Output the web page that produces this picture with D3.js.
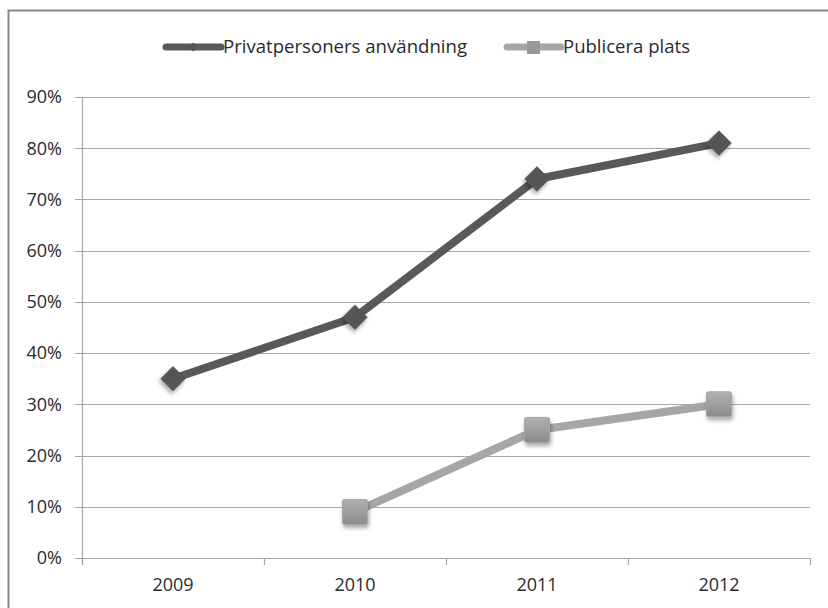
<!DOCTYPE html>
<html>
<head>
<meta charset="utf-8">
<script src="https://cdn.jsdelivr.net/npm/d3@7"></script>
<style>
body { margin: 0; background: #fff; }
text { font-family: "Open Sans", "Liberation Sans", sans-serif; fill: #2b2b2b; }
</style>
</head>
<body>
<svg id="chart"></svg>
<script>
var years = ["2009", "2010", "2011", "2012"];
var privat = [35, 47, 74, 81];
var publicera = [null, 9, 25, 30];
var yTicks = [0, 10, 20, 30, 40, 50, 60, 70, 80, 90];
var seriesNames = ["Privatpersoners användning", "Publicera plats"];

var width = 828, height = 608;
var margin = {left: 82, right: 18, top: 97, bottom: 50};
var fs = 18;

var svg = d3.select("#chart")
    .attr("width", width)
    .attr("height", height);

var defs = svg.append("defs");
var f = defs.append("filter").attr("id", "shadow")
    .attr("x", "-50%").attr("y", "-50%").attr("width", "200%").attr("height", "200%");
f.append("feDropShadow").attr("dx", 1).attr("dy", 3).attr("stdDeviation", 2)
    .attr("flood-color", "#000").attr("flood-opacity", 0.35);
var g1 = defs.append("linearGradient").attr("id", "sqgrad").attr("x1", 0).attr("y1", 0).attr("x2", 0).attr("y2", 1);
g1.append("stop").attr("offset", "0%").attr("stop-color", "#b0b0b0");
g1.append("stop").attr("offset", "100%").attr("stop-color", "#8c8c8c");

// outer chart border
svg.append("rect")
    .attr("x", 8.5).attr("y", 10.5)
    .attr("width", 840).attr("height", 620)
    .attr("fill", "none").attr("stroke", "#888").attr("stroke-width", 2);

var x = d3.scaleBand()
    .domain(years)
    .range([margin.left, width - margin.right]);

var y = d3.scaleLinear()
    .domain([0, 90])
    .range([height - margin.bottom, margin.top]);

// gridlines
svg.append("g")
    .selectAll("line")
    .data(yTicks)
    .enter()
    .append("line")
    .attr("x1", margin.left - 7)
    .attr("x2", width - margin.right)
    .attr("y1", function(d){ return Math.round(y(d)) + 0.5; })
    .attr("y2", function(d){ return Math.round(y(d)) + 0.5; })
    .attr("stroke", "#a6a6a6")
    .attr("stroke-width", 1.2);

// y axis line
svg.append("line")
    .attr("x1", margin.left + 0.5).attr("x2", margin.left + 0.5)
    .attr("y1", y(90)).attr("y2", y(0) + 7)
    .attr("stroke", "#a6a6a6").attr("stroke-width", 1.2);

// y labels
svg.append("g")
    .selectAll("text")
    .data(yTicks)
    .enter()
    .append("text")
    .attr("x", 62)
    .attr("y", function(d){ return y(d); })
    .attr("dy", "0.35em")
    .attr("text-anchor", "end")
    .attr("font-size", fs)
    .text(function(d){ return d + "%"; });

// x axis ticks at band boundaries
var bounds = years.map(function(d){ return x(d); }).concat([x(years[3]) + x.bandwidth()]);
svg.append("g")
    .selectAll("line")
    .data(bounds)
    .enter()
    .append("line")
    .attr("x1", function(d){ return Math.round(d) + 0.5; })
    .attr("x2", function(d){ return Math.round(d) + 0.5; })
    .attr("y1", y(0))
    .attr("y2", y(0) + 7)
    .attr("stroke", "#a6a6a6").attr("stroke-width", 1.2);

svg.append("g")
    .selectAll("text")
    .data(years)
    .enter()
    .append("text")
    .attr("x", function(d){ return x(d) + x.bandwidth() / 2; })
    .attr("y", y(0) + 27)
    .attr("dy", "0.35em")
    .attr("text-anchor", "middle")
    .attr("font-size", fs)
    .text(function(d){ return d; });

var cx = function(i){ return x(years[i]) + x.bandwidth() / 2; };

var line = d3.line()
    .defined(function(d){ return d != null; })
    .x(function(d, i){ return cx(i); })
    .y(function(d){ return y(d); });

// light series
svg.append("path")
    .datum(publicera)
    .attr("d", line)
    .attr("fill", "none")
    .attr("stroke", "#a6a6a6")
    .attr("stroke-width", 8)
    .attr("stroke-linejoin", "round");

svg.append("g")
    .selectAll("rect")
    .data(publicera.map(function(d, i){ return {v: d, i: i}; }).filter(function(d){ return d.v != null; }))
    .enter()
    .append("rect")
    .attr("x", function(d){ return cx(d.i) - 12.5; })
    .attr("y", function(d){ return y(d.v) - 12.5; })
    .attr("width", 25).attr("height", 25)
    .attr("rx", 2)
    .attr("fill", "url(#sqgrad)")
    .attr("stroke", "#a6a6a6").attr("stroke-width", 1)
    .attr("filter", "url(#shadow)");

// dark series
svg.append("path")
    .datum(privat)
    .attr("d", line)
    .attr("fill", "none")
    .attr("stroke", "#595959")
    .attr("stroke-width", 8)
    .attr("stroke-linejoin", "round");

svg.append("g")
    .selectAll("path")
    .data(privat)
    .enter()
    .append("path")
    .attr("d", d3.symbol().type(d3.symbolSquare).size(320))
    .attr("transform", function(d, i){ return "translate(" + cx(i) + "," + y(d) + ") rotate(45)"; })
    .attr("fill", "#555")
    .attr("filter", "url(#shadow)");

// legend
var leg = svg.append("g");
leg.append("line").attr("x1", 166).attr("x2", 221).attr("y1", 47).attr("y2", 47)
    .attr("stroke", "#595959").attr("stroke-width", 7).attr("stroke-linecap", "round");
leg.append("path").attr("d", d3.symbol().type(d3.symbolSquare).size(40))
    .attr("transform", "translate(193,47) rotate(45)").attr("fill", "#555");
leg.append("text").attr("x", 223).attr("y", 47).attr("dy", "0.35em").attr("font-size", fs)
    .attr("textLength", 244).attr("lengthAdjust", "spacingAndGlyphs")
    .text(seriesNames[0]);

leg.append("line").attr("x1", 507).attr("x2", 561).attr("y1", 47).attr("y2", 47)
    .attr("stroke", "#a6a6a6").attr("stroke-width", 7).attr("stroke-linecap", "round");
leg.append("rect").attr("x", 527).attr("y", 41).attr("width", 13).attr("height", 13)
    .attr("fill", "#999");
leg.append("text").attr("x", 563).attr("y", 47).attr("dy", "0.35em").attr("font-size", fs)
    .attr("textLength", 127).attr("lengthAdjust", "spacingAndGlyphs")
    .text(seriesNames[1]);
</script>
</body>
</html>
